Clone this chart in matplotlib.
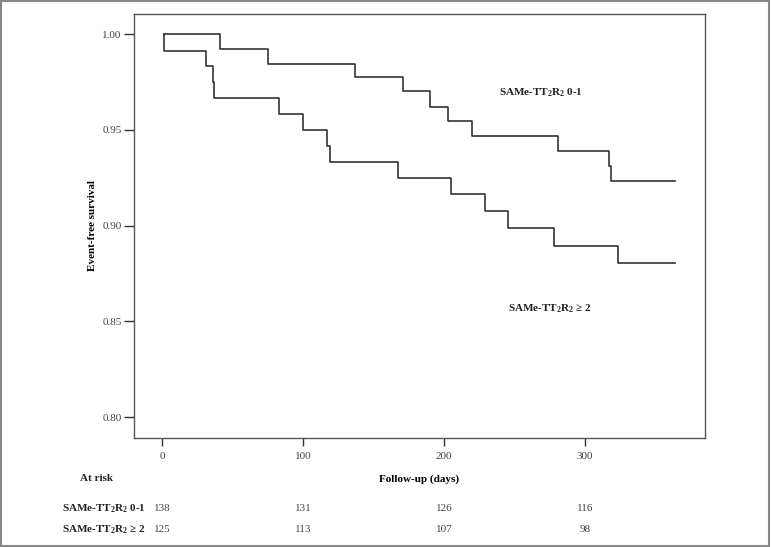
import matplotlib.pyplot as plt
import matplotlib.transforms as mtransforms
from matplotlib.patches import Rectangle

plt.rcParams['font.family'] = ['Liberation Serif', 'DejaVu Serif']
plt.rcParams['mathtext.default'] = 'regular'

# Kaplan-Meier steps, step 'post'
days_low = [1, 41, 75, 137, 171, 190, 203, 220, 281, 317, 318, 364]
surv_low = [1.0, 0.9925, 0.9847, 0.9779, 0.9703, 0.9621, 0.9545, 0.9470, 0.9392, 0.9314, 0.9231, 0.9231]

days_high = [1, 1, 31, 36, 37, 83, 100, 117, 119, 167, 205, 229, 245, 278, 323, 364]
surv_high = [1.0, 0.9915, 0.9835, 0.9752, 0.9668, 0.9583, 0.9500, 0.9418, 0.9335,
             0.9250, 0.9168, 0.9078, 0.8988, 0.8896, 0.8807, 0.8807]

risk_days = [0, 100, 200, 300]
risk_low = [138, 131, 126, 116]
risk_high = [125, 113, 107, 98]

lab_low = 'SAMe-TT$_2$R$_2$ 0-1'
lab_high = 'SAMe-TT$_2$R$_2$ ≥ 2'

ink = '#333333'
fs = 8

fig = plt.figure(figsize=(7.71, 5.47), dpi=100)
ax = fig.add_axes([134/771, 1 - 437.7/547, (705 - 134)/771, (437.7 - 14)/547])

ax.step(days_low, surv_low, where='post', color=ink, lw=1.2)
ax.step(days_high, surv_high, where='post', color=ink, lw=1.2)

ax.set_xlim(-20, 385)
ax.set_ylim(0.7892, 1.0106)
ax.set_xticks([0, 100, 200, 300])
ax.set_yticks([0.80, 0.85, 0.90, 0.95, 1.00])
ax.set_yticklabels(['0.80', '0.85', '0.90', '0.95', '1.00'])
ax.tick_params(axis='y', length=7, width=1, color=ink, labelsize=fs, labelcolor='#444444', pad=2)
ax.tick_params(axis='x', length=6, width=1, color=ink, labelsize=fs, labelcolor='#444444', pad=4)
for s in ax.spines.values():
    s.set_color('#555555')
    s.set_linewidth(1.0)

ax.set_ylabel('Event-free survival', fontsize=fs, fontweight='bold', labelpad=4)
ax.set_xlabel('Follow-up (days)', fontsize=fs, fontweight='bold', labelpad=10)

ax.text(239, 0.9693, lab_low, fontsize=fs, fontweight='bold', va='center', ha='left', color='#222222')
ax.text(245, 0.8564, lab_high, fontsize=fs, fontweight='bold', va='center', ha='left', color='#222222')

# at-risk table
tr = mtransforms.blended_transform_factory(ax.transData, fig.transFigure)
fig.text(80/771, 1 - 478.3/547, 'At risk', fontsize=fs, fontweight='bold', va='center', color='#222222')
fig.text(62/771, 1 - 508.3/547, lab_low, fontsize=fs, fontweight='bold', va='center', color='#222222')
fig.text(62/771, 1 - 530/547, lab_high, fontsize=fs, fontweight='bold', va='center', color='#222222')
for d, a, b in zip(risk_days, risk_low, risk_high):
    ax.text(d, 1 - 508.3/547, str(a), transform=tr, ha='center', va='center', fontsize=fs, color='#444444')
    ax.text(d, 1 - 530/547, str(b), transform=tr, ha='center', va='center', fontsize=fs, color='#444444')

# outer frame
fig.patches.append(Rectangle((0.001, 0.002), 0.997, 0.997, transform=fig.transFigure,
                             fill=False, edgecolor='#888888', lw=1.5))

fig.savefig('out.png', dpi=100)
